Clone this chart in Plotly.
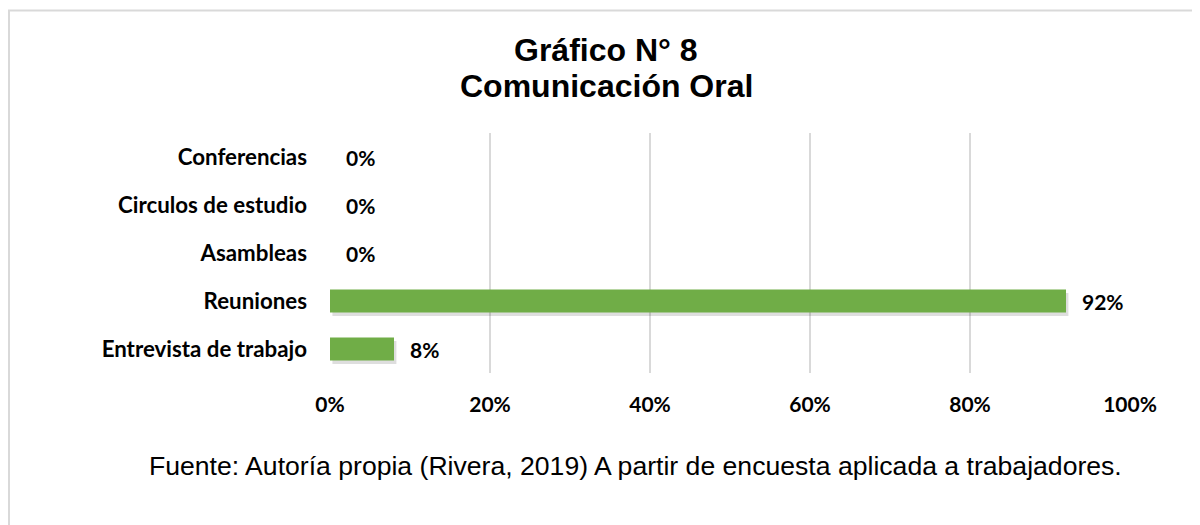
import plotly.graph_objects as go

categories = ["Entrevista de trabajo", "Reuniones", "Asambleas", "Circulos de estudio", "Conferencias"]
values = [0.08, 0.92, 0.0, 0.0, 0.0]
labels = ["8%", "92%", "0%", "0%", "0%"]
tick_values = [0, 0.2, 0.4, 0.6, 0.8, 1.0]
tick_text = ["0%", "20%", "40%", "60%", "80%", "100%"]

# page offset (default html body margin)
OFF = 8
W, H = 1200 - OFF, 525 - OFF
L, T = 330 - OFF, 133 - OFF
pw, ph = 800, 240
R = W - L - pw
B = H - T - ph


def px(x):
    return (x - OFF - L) / pw


def py(y):
    return (H - B - (y - OFF)) / ph


cat_font = dict(family="Lato", size=22.3, color="#000000")
num_font = dict(family="Lato", size=21, color="#000000")

fig = go.Figure()
# soft shadow under bars
fig.add_trace(go.Bar(
    y=categories, x=values, orientation="h",
    marker=dict(color="rgba(0,0,0,0.13)", line=dict(width=0)),
    width=0.48, offset=-0.24 - 3.5 / 48, base=0.003, hoverinfo="skip",
))
fig.add_trace(go.Bar(
    y=categories, x=values, orientation="h",
    marker=dict(color="#70AD47", line=dict(width=0)),
    width=0.48, offset=-0.24, hoverinfo="skip",
))

for c, v, t in zip(categories, values, labels):
    fig.add_annotation(x=v, y=c, xref="x", yref="y", text="<b>%s</b>" % t,
                       showarrow=False, xanchor="left", yanchor="middle",
                       xshift=14, font=num_font)

title_font = dict(family="Liberation Sans", size=32, color="#000000")
fig.add_annotation(x=px(606), y=py(50), xref="paper", yref="paper",
                   text="<b>Gráfico N° 8</b>", showarrow=False,
                   xanchor="center", yanchor="middle", font=title_font)
fig.add_annotation(x=px(606), y=py(86), xref="paper", yref="paper",
                   text="<b>Comunicación Oral</b>", showarrow=False,
                   xanchor="center", yanchor="middle", font=title_font)
fig.add_annotation(x=px(147), y=py(466), xref="paper", yref="paper",
                   text="Fuente: Autoría propia (Rivera, 2019) A partir de encuesta aplicada a trabajadores.",
                   showarrow=False, xanchor="left", yanchor="middle",
                   font=dict(family="Liberation Sans", size=26.6, color="#000000"))

fig.add_shape(type="rect", xref="paper", yref="paper",
              x0=px(9), x1=px(1230), y0=py(560), y1=py(10.5),
              line=dict(color="#D9D9D9", width=2), fillcolor="rgba(0,0,0,0)", layer="below")

fig.update_layout(
    width=W, height=H,
    margin=dict(l=L, r=R, t=T, b=B, pad=0),
    paper_bgcolor="#FFFFFF", plot_bgcolor="#FFFFFF",
    showlegend=False,
    barmode="overlay",
    xaxis=dict(range=[0, 1], tickvals=tick_values, ticktext=["<b>%s</b>" % s for s in tick_text],
               showgrid=True, gridcolor="#D9D9D9", gridwidth=2, zeroline=False,
               showline=False, ticks="", tickfont=num_font, ticklabelstandoff=17,
               fixedrange=True),
    yaxis=dict(categoryorder="array", categoryarray=categories,
               tickvals=categories, ticktext=["<b>%s</b>" % c for c in categories],
               showgrid=False, zeroline=False, showline=False, ticks="",
               tickfont=cat_font, ticklabelstandoff=22, range=[-0.5, 4.5],
               fixedrange=True),
)

fig.write_html("out.html")
